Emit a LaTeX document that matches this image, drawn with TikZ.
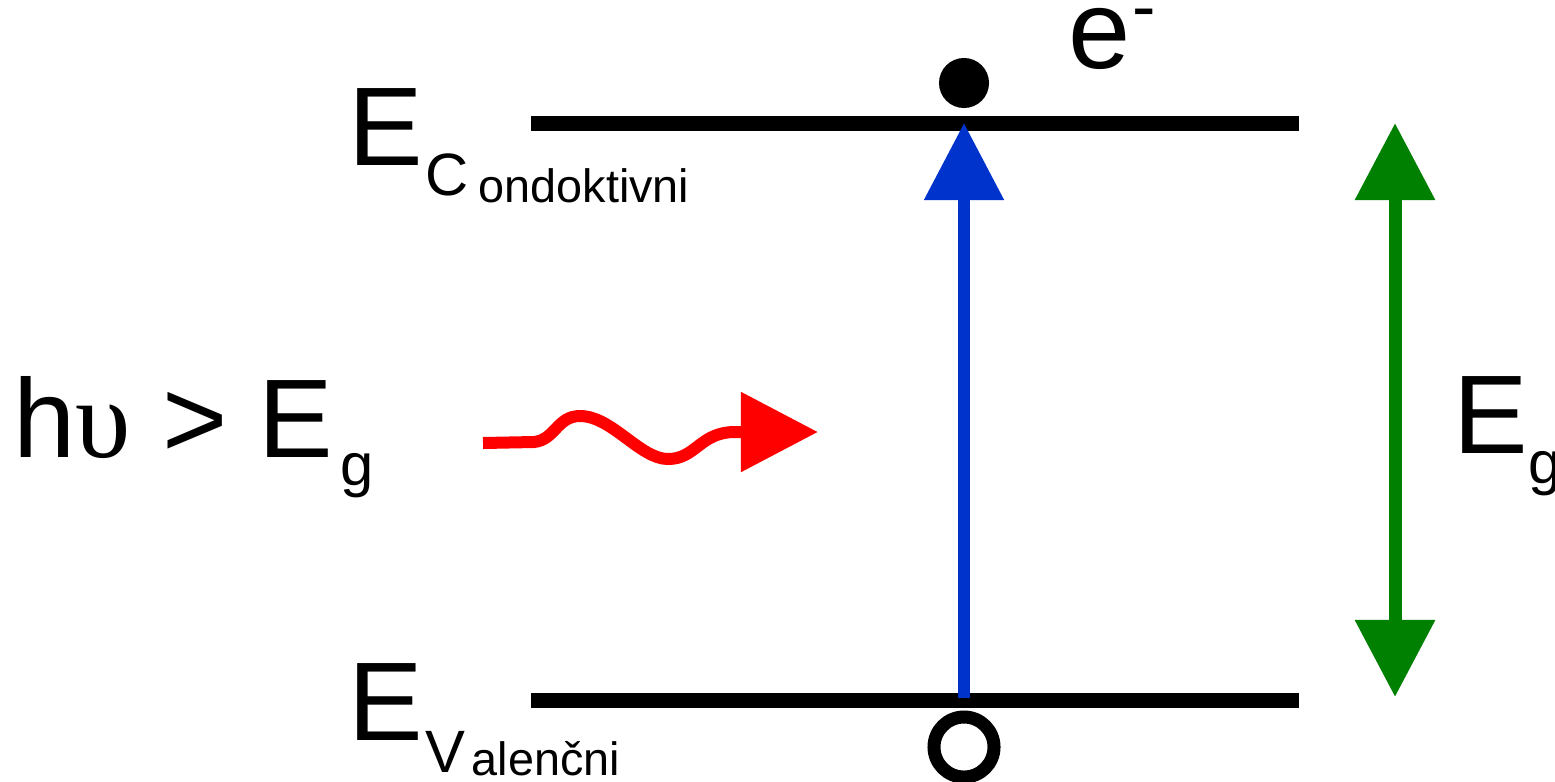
\documentclass[tikz,border=0pt]{standalone}
\usepackage{fontspec}
\setmainfont{Liberation Sans}
\newfontfamily\grk{Liberation Serif}
\usetikzlibrary{positioning,arrows.meta}
\definecolor{photonred}{HTML}{FF0000}
\definecolor{jumpblue}{HTML}{0033CC}
\definecolor{gapgreen}{HTML}{008000}
\tikzset{bigtip/.tip={Triangle[length=7.7mm,width=7.7mm]}}

\begin{document}
\begin{tikzpicture}[x=0.01cm,y=-0.01cm,
  lbl/.style={inner sep=0,anchor=base west,font=\fontsize{31.8}{36}\selectfont},
  sublbl/.style={inner sep=0,anchor=base west,font=\fontsize{17}{20}\selectfont},
  tinylbl/.style={inner sep=0,anchor=base west,font=\fontsize{13.3}{16}\selectfont},
  level/.style={line width=0.15cm}]
\useasboundingbox (0,0) rectangle (1555,781);

% band edges
\coordinate (cL) at (531,123);
\coordinate (cR) at (1299,123);
\coordinate (vL) at (531,700);
\coordinate (vR) at (1299,700);
\draw[level] (cL)--(cR);
\draw[level] (vL)--(vR);

\node[lbl] (ecE) at (348,165) {E};
\node[sublbl] (ecC) at (425,195) {C};
\node[tinylbl] (ecTxt) at (478,202) {ondoktivni};
\node[lbl] (evE) at (348,740) {E};
\node[sublbl] (evV) at (425,772) {V};
\node[tinylbl] (evTxt) at (471,775) {alenčni};

% electron and hole
\node[circle,fill,inner sep=0,minimum size=0.5cm] (el) at (964,83) {};
\node[lbl] (elE) at (1068,68) {e};
\node[sublbl,font=\fontsize{20}{24}\selectfont] (elM) at (1132,30) {-};
\node[circle,draw,line width=0.13cm,inner sep=0,minimum size=0.6cm] (hole) at (964,747) {};

% excitation
\coordinate (vb) at (964,698);
\coordinate (cb) at (964,123);
\draw[jumpblue,line width=0.12cm,-{bigtip}] (vb)--(cb);

% gap
\coordinate (gt) at (1395,123);
\coordinate (gb) at (1395,697);
\draw[gapgreen,line width=0.13cm,{bigtip}-{bigtip}] (gt)--(gb);
\node[lbl] (gE) at (1453,453) {E};
\node[sublbl] (gg) at (1528,483) {g};

% photon
\node[lbl] (hv) at (13,457) {h{\grk υ} > E};
\node[sublbl] (hvg) at (340,485) {g};
\coordinate (ph0) at (483,443);
\coordinate (ph1) at (818,432);
\draw[photonred,line width=0.12cm,-{bigtip}] (ph0)--(534,442)
  .. controls (555,440) and (557,416) .. (580,416)
  .. controls (612,416) and (640,459) .. (668,459)
  .. controls (696,459) and (700,432) .. (735,432)--(ph1);
\end{tikzpicture}
\end{document}
